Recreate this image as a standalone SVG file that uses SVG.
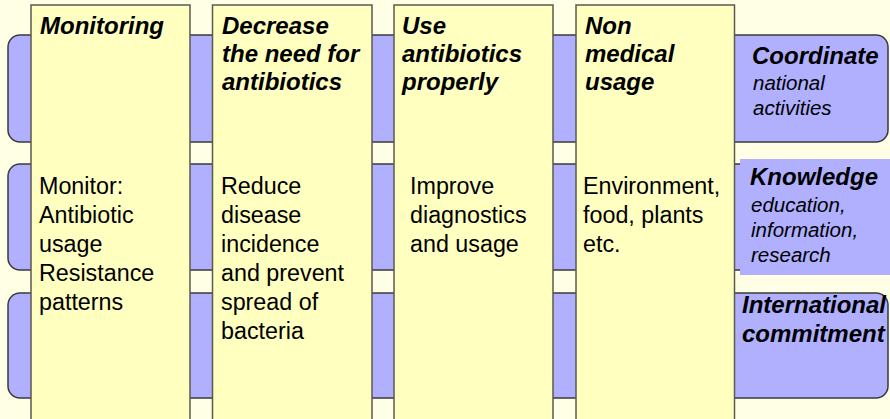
<svg xmlns="http://www.w3.org/2000/svg" width="890" height="419" viewBox="0 0 890 419">
<style>
.band{fill:#B0B0FF;stroke:#3A3A3A;stroke-width:1.5}
.col{fill:#FFFFC0;stroke:#5A5A50;stroke-width:1.5}
text{font-family:"Liberation Sans",Arial,sans-serif;fill:#000}
.h{font-size:24px;font-weight:bold;font-style:italic}
.b{font-size:23.3px}
.s{font-size:20.5px;font-style:italic}
</style>
<rect x="0" y="0" width="890" height="419" fill="#FFFFE6"/>
<g id="connectors">
<rect id="band1" class="band" x="8" y="35" width="880" height="107" rx="12"/>
<rect id="band2" class="band" x="8" y="164" width="900" height="106" rx="12"/>
<rect id="band3" class="band" x="8" y="293" width="880" height="105" rx="12"/>
</g>
<g id="col-monitoring">
<rect class="col" x="31" y="5" width="159" height="430"/>
<text class="h" x="40" y="34">Monitoring</text>
<text class="b" x="39" y="194">Monitor:</text>
<text class="b" x="39" y="223">Antibiotic</text>
<text class="b" x="39" y="252">usage</text>
<text class="b" x="39" y="281">Resistance</text>
<text class="b" x="39" y="310">patterns</text>
</g>
<g id="col-decrease">
<rect class="col" x="212.5" y="5" width="159.5" height="430"/>
<text class="h" x="222" y="34">Decrease</text>
<text class="h" x="222" y="62">the need for</text>
<text class="h" x="222" y="90">antibiotics</text>
<text class="b" x="221" y="194">Reduce</text>
<text class="b" x="221" y="223">disease</text>
<text class="b" x="221" y="252">incidence</text>
<text class="b" x="221" y="281">and prevent</text>
<text class="b" x="221" y="310">spread of</text>
<text class="b" x="221" y="339">bacteria</text>
</g>
<g id="col-use">
<rect class="col" x="394" y="5" width="159" height="430"/>
<text class="h" x="402" y="34">Use</text>
<text class="h" x="402" y="62">antibiotics</text>
<text class="h" x="402" y="90">properly</text>
<text class="b" x="410" y="194">Improve</text>
<text class="b" x="410" y="223">diagnostics</text>
<text class="b" x="410" y="252">and usage</text>
</g>
<g id="col-nonmedical">
<rect class="col" x="576" y="5" width="158.5" height="430"/>
<text class="h" x="585" y="34">Non</text>
<text class="h" x="585" y="62">medical</text>
<text class="h" x="585" y="90">usage</text>
<text class="b" x="583" y="194">Environment,</text>
<text class="b" x="583" y="223">food, plants</text>
<text class="b" x="583" y="252">etc.</text>
</g>
<g id="coordinate">
<text class="h" x="752" y="64">Coordinate</text>
<text class="s" x="753" y="90">national</text>
<text class="s" x="753" y="115">activities</text>
</g>
<g id="knowledge">
<rect x="740" y="159" width="150" height="116" fill="#B0B0FF"/>
<text class="h" x="750" y="185">Knowledge</text>
<text class="s" x="751" y="212">education,</text>
<text class="s" x="751" y="237">information,</text>
<text class="s" x="751" y="262">research</text>
</g>
<g id="international">
<text class="h" x="742" y="313">International</text>
<text class="h" x="742" y="342">commitment</text>
</g>
</svg>
